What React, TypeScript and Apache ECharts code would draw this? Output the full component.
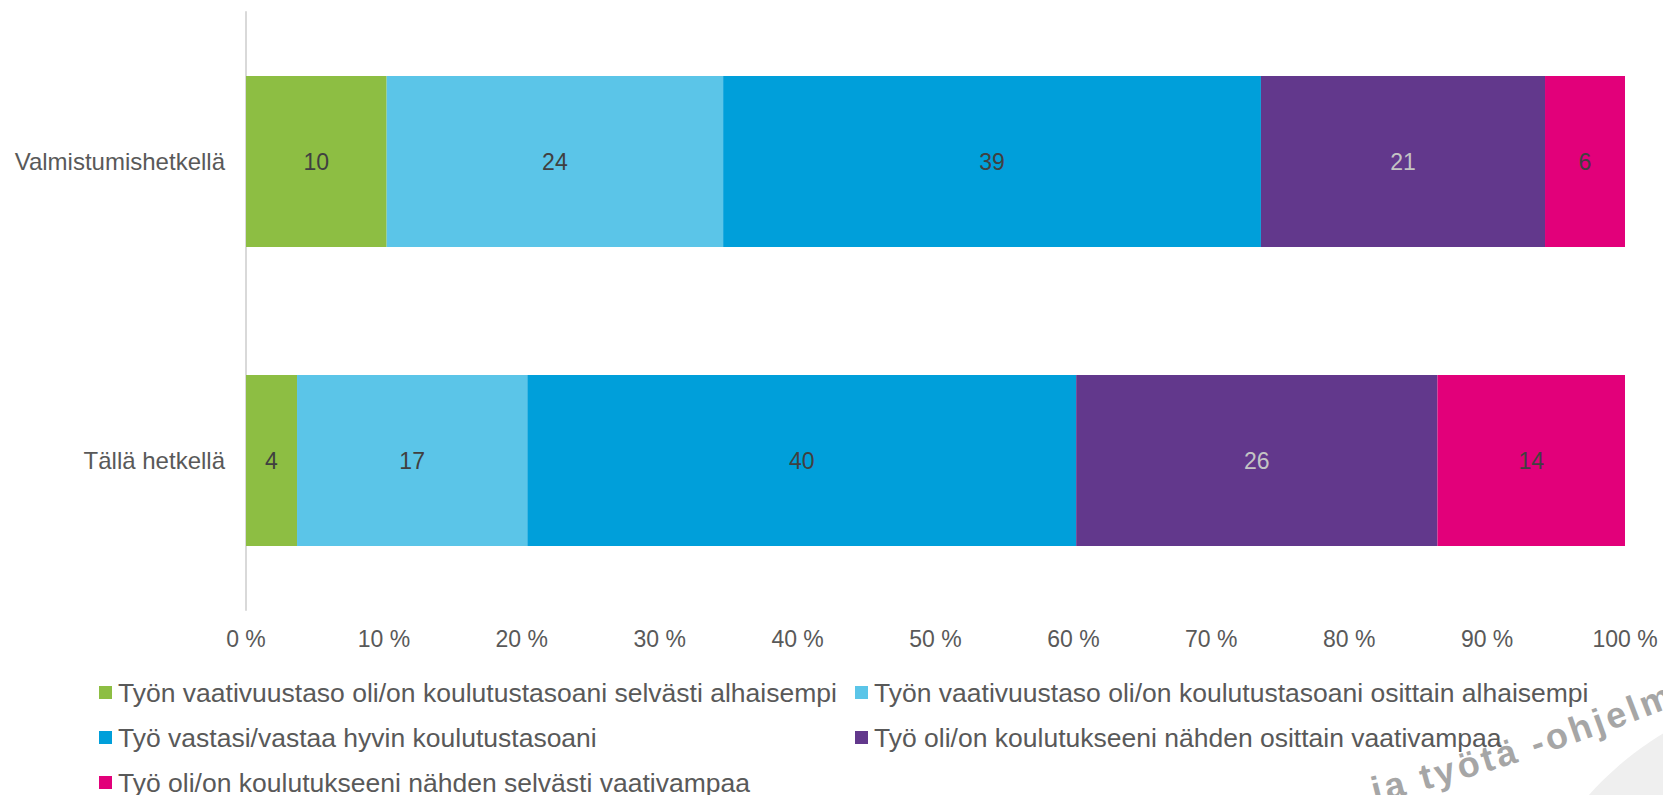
import React, { useEffect, useRef } from "react";
import * as echarts from "echarts";

// Rows of the y axis, listed bottom to top
const categories = ["Tällä hetkellä", "Valmistumishetkellä"];

const seriesNames = [
  "Työn vaativuustaso oli/on koulutustasoani selvästi alhaisempi",
  "Työn vaativuustaso oli/on koulutustasoani osittain alhaisempi",
  "Työ vastasi/vastaa hyvin koulutustasoani",
  "Työ oli/on koulutukseeni nähden osittain vaativampaa",
  "Työ oli/on koulutukseeni nähden selvästi vaativampaa",
];

// Shares in percent, [Tällä hetkellä, Valmistumishetkellä]
const selvastiAlhaisempi = [3.7, 10.2];
const osittainAlhaisempi = [16.7, 24.4];
const vastaaHyvin = [39.8, 39.0];
const osittainVaativampi = [26.2, 20.6];
const selvastiVaativampi = [13.6, 5.8];

const seriesValues = [
  selvastiAlhaisempi,
  osittainAlhaisempi,
  vastaaHyvin,
  osittainVaativampi,
  selvastiVaativampi,
];

const colors = ["#8DBE43", "#5BC5E8", "#009FDA", "#62388C", "#E2007A"];
const labelColors = ["#404040", "#404040", "#404040", "#C4C4C4", "#404040"];

const xTicks = { min: 0, max: 100, interval: 10 };

const FONT = "'Liberation Sans', Arial, sans-serif";
const TEXT = "#595959";

// Legend placement: two columns, three rows
const legendSlots = [
  { left: 99, top: 679 },
  { left: 855, top: 679 },
  { left: 99, top: 724 },
  { left: 855, top: 724 },
  { left: 99, top: 769 },
];

const stampText = "ja työtä -ohjelma";

function stampGlyphs() {
  const size = 36;
  const font = `bold ${size}px ${FONT}`;
  const ctx = document.createElement("canvas").getContext("2d");
  if (ctx) ctx.font = font;
  const out: any[] = [];
  let x = 1376;
  let y = 808;
  let deg = 14;
  for (const ch of stampText) {
    const rad = (deg * Math.PI) / 180;
    out.push({
      type: "text",
      x,
      y,
      rotation: rad,
      z: 1,
      silent: true,
      style: {
        text: ch,
        font,
        fill: "#A6A6A6",
        textAlign: "left",
        textVerticalAlign: "bottom",
      },
    });
    const w = (ctx ? ctx.measureText(ch).width : size * 0.55) + 3.5;
    x += w * Math.cos(rad);
    y -= w * Math.sin(rad);
    deg += 0.5;
  }
  return out;
}

export default function App() {
  const ref = useRef<HTMLDivElement>(null);

  useEffect(() => {
    if (!ref.current) return;
    const chart = echarts.init(ref.current, null, { renderer: "svg" });

    const series = seriesNames.map((name, i) => ({
      name,
      type: "bar",
      stack: "total",
      barWidth: 171,
      data: seriesValues[i],
      itemStyle: { color: colors[i] },
      label: {
        show: true,
        position: "inside",
        color: labelColors[i],
        fontFamily: FONT,
        fontSize: 23,
        formatter: (p: any) => String(Math.round(p.value)),
      },
      emphasis: { disabled: true },
    }));

    const legends = seriesNames.map((name, i) => ({
      data: [name],
      left: legendSlots[i].left,
      top: legendSlots[i].top,
      padding: 0,
      itemWidth: 13,
      itemHeight: 13,
      icon: "rect",
      selectedMode: false,
      textStyle: {
        color: TEXT,
        fontFamily: FONT,
        fontSize: 26.5,
        lineHeight: 26,
        padding: [0, 0, 0, 1],
      },
    }));

    chart.setOption({
      animation: false,
      color: colors,
      textStyle: { fontFamily: FONT },
      grid: { left: 246, right: 38, top: 12, bottom: 185, containLabel: false },
      xAxis: {
        type: "value",
        min: xTicks.min,
        max: xTicks.max,
        interval: xTicks.interval,
        axisLine: { show: false },
        axisTick: { show: false },
        splitLine: { show: false },
        axisLabel: {
          formatter: "{value} %",
          color: TEXT,
          fontFamily: FONT,
          fontSize: 23,
          margin: 17,
        },
      },
      yAxis: {
        type: "category",
        data: categories,
        axisLine: { show: true, lineStyle: { color: "#D9D9D9", width: 2 } },
        axisTick: { show: false },
        splitLine: { show: false },
        axisLabel: {
          color: TEXT,
          fontFamily: FONT,
          fontSize: 24,
          margin: 21,
        },
      },
      legend: legends,
      series,
      graphic: [
        {
          type: "circle",
          shape: { cx: 1830, cy: 1010, r: 323 },
          z: 0,
          silent: true,
          style: { fill: "#EFEFEF" },
        },
        ...stampGlyphs(),
      ],
    });

    return () => chart.dispose();
  }, []);

  return (
    <div
      ref={ref}
      style={{ position: "fixed", left: 0, top: 0, width: 1663, height: 795, background: "#fff" }}
    />
  );
}
